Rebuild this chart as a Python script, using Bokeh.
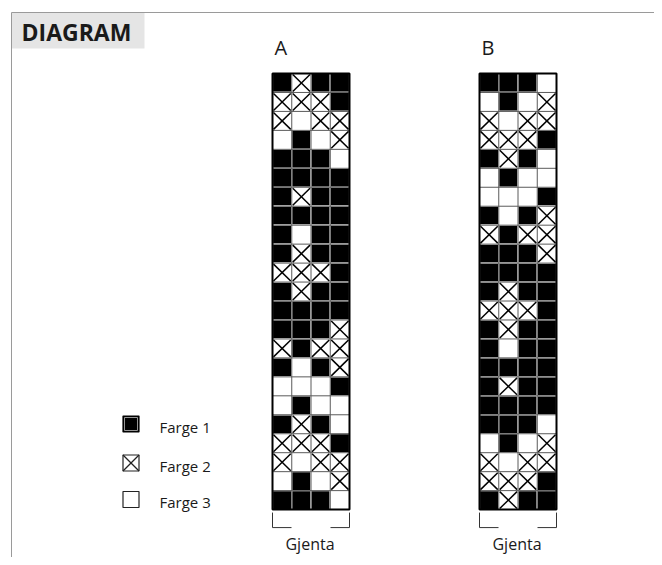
from bokeh.plotting import figure
from bokeh.models import Range1d
from bokeh.embed import file_html
from bokeh.resources import INLINE
from bokeh.core.properties import value

# 1 = Farge 1 (black), 2 = Farge 2 (cross), 3 = Farge 3 (white); rows top -> bottom
chart_a = [
    [1, 2, 1, 1], [2, 2, 2, 1], [2, 3, 2, 2], [3, 1, 3, 2], [1, 1, 1, 3],
    [1, 1, 1, 1], [1, 2, 1, 1], [1, 1, 1, 1], [1, 3, 1, 1], [1, 2, 1, 1],
    [2, 2, 2, 1], [1, 2, 1, 1], [1, 1, 1, 1], [1, 1, 1, 2], [2, 1, 2, 2],
    [1, 3, 1, 2], [3, 3, 3, 1], [3, 1, 3, 3], [1, 2, 1, 3], [2, 2, 2, 1],
    [2, 3, 2, 2], [3, 1, 3, 2], [1, 1, 1, 3],
]
chart_b = [
    [1, 1, 1, 3], [3, 1, 3, 2], [2, 3, 2, 2], [2, 2, 2, 1], [1, 2, 1, 3],
    [3, 1, 3, 3], [3, 3, 3, 1], [1, 3, 1, 2], [2, 1, 2, 2], [1, 1, 1, 2],
    [1, 1, 1, 1], [1, 2, 1, 1], [2, 2, 2, 1], [1, 2, 1, 1], [1, 3, 1, 1],
    [1, 1, 1, 1], [1, 2, 1, 1], [1, 1, 1, 1], [1, 1, 1, 3], [3, 1, 3, 2],
    [2, 3, 2, 2], [2, 2, 2, 1], [1, 2, 1, 1],
]
chart_names = ["A", "B"]
legend_codes = [1, 2, 3]
legend_labels = ["Farge 1", "Farge 2", "Farge 3"]
repeat_label = "Gjenta"
title_text = "DIAGRAM"

FONT = value("Open Sans")
W, H = 654, 557
p = figure(width=W, height=H, x_range=Range1d(0, W), y_range=Range1d(H, 0),
           output_backend="svg", toolbar_location=None, min_border=0,
           x_axis_location=None, y_axis_location=None)
p.grid.visible = False
p.outline_line_color = None
p.background_fill_color = "white"
p.border_fill_color = "white"

# frame and title box
p.segment(x0=[11, 11], y0=[12, 12], x1=[W, 11], y1=[12, H], line_color="#9a9a9a", line_width=1)
p.quad(left=[11.5], right=[144], top=[12.5], bottom=[48], fill_color="#e5e5e5", line_color=None)
p.text(x=[21], y=[31], text=[title_text], text_font=FONT, text_font_size="23px",
       text_font_style="bold", text_color="#1a1a1a", text_baseline="middle", text_align="left")

CW, CH = 19.25, 18.96
origins = [(272.0, 73.0), (479.0, 73.0)]


def draw_chart(chart, x0, y0, name):
    nr, nc = len(chart), len(chart[0])
    xs, ys, fills = [], [], []
    cx0, cy0, cx1, cy1 = [], [], [], []
    for r, row in enumerate(chart):
        for c, code in enumerate(row):
            xs.append(x0 + (c + 0.5) * CW)
            ys.append(y0 + (r + 0.5) * CH)
            fills.append("black" if code == 1 else "white")
            if code == 2:
                l, t = x0 + c * CW + 1, y0 + r * CH + 1
                rr, b = x0 + (c + 1) * CW - 1, y0 + (r + 1) * CH - 1
                cx0 += [l, l]; cy0 += [t, b]; cx1 += [rr, rr]; cy1 += [b, t]
    p.rect(x=xs, y=ys, width=CW, height=CH, fill_color=fills, line_color="white", line_width=1.2)
    gx0 = [x0 + c * CW for c in range(1, nc)]
    p.segment(x0=gx0, y0=[y0] * len(gx0), x1=gx0, y1=[y0 + nr * CH] * len(gx0),
              line_color="#5a5a5a", line_width=1)
    gy = [y0 + r * CH for r in range(1, nr)]
    p.segment(x0=[x0] * len(gy), y0=gy, x1=[x0 + nc * CW] * len(gy), y1=gy,
              line_color="#5a5a5a", line_width=1)
    p.segment(x0=cx0, y0=cy0, x1=cx1, y1=cy1, line_color="black", line_width=1.5)
    p.quad(left=[x0], right=[x0 + nc * CW], top=[y0], bottom=[y0 + nr * CH],
           fill_color=None, line_color="black", line_width=2)
    p.text(x=[x0 + 2], y=[47], text=[name], text_font=FONT, text_font_size="20px",
           text_color="#1a1a1a", text_baseline="middle", text_align="left")
    xr = x0 + nc * CW
    yb = y0 + nr * CH
    p.multi_line(xs=[[x0, x0, x0 + 19], [xr - 19, xr, xr]],
                 ys=[[yb + 3, yb + 18, yb + 18], [yb + 18, yb + 18, yb + 3]],
                 line_color="#333333", line_width=1)
    p.text(x=[(x0 + xr) / 2 - 1], y=[yb + 34], text=[repeat_label], text_font=FONT,
           text_font_size="16px", text_color="#1a1a1a", text_baseline="middle", text_align="center")


for chart, (x0, y0), name in zip([chart_a, chart_b], origins, chart_names):
    draw_chart(chart, x0, y0, name)

# legend
leg_x = 130.5
leg_y = [423.5, 462.5, 499.0]
S = 16
for code, label, ly in zip(legend_codes, legend_labels, leg_y):
    if code == 1:
        p.rect(x=[leg_x], y=[ly], width=S, height=S, fill_color="black", line_color="black", line_width=1.2)
        p.rect(x=[leg_x], y=[ly], width=S - 3, height=S - 3, fill_color=None, line_color="#bbbbbb", line_width=0.8)
    else:
        p.rect(x=[leg_x], y=[ly], width=S, height=S, fill_color="white", line_color="#222222", line_width=1.2)
        if code == 2:
            h = S / 2
            p.segment(x0=[leg_x - h, leg_x - h], y0=[ly - h, ly + h], x1=[leg_x + h, leg_x + h],
                      y1=[ly + h, ly - h], line_color="#222222", line_width=1.2)
    p.text(x=[159], y=[ly + 2.5], text=[label], text_font=FONT, text_font_size="15px",
           text_color="#1a1a1a", text_baseline="middle", text_align="left")

open("out.html", "w").write(file_html(p, INLINE))
